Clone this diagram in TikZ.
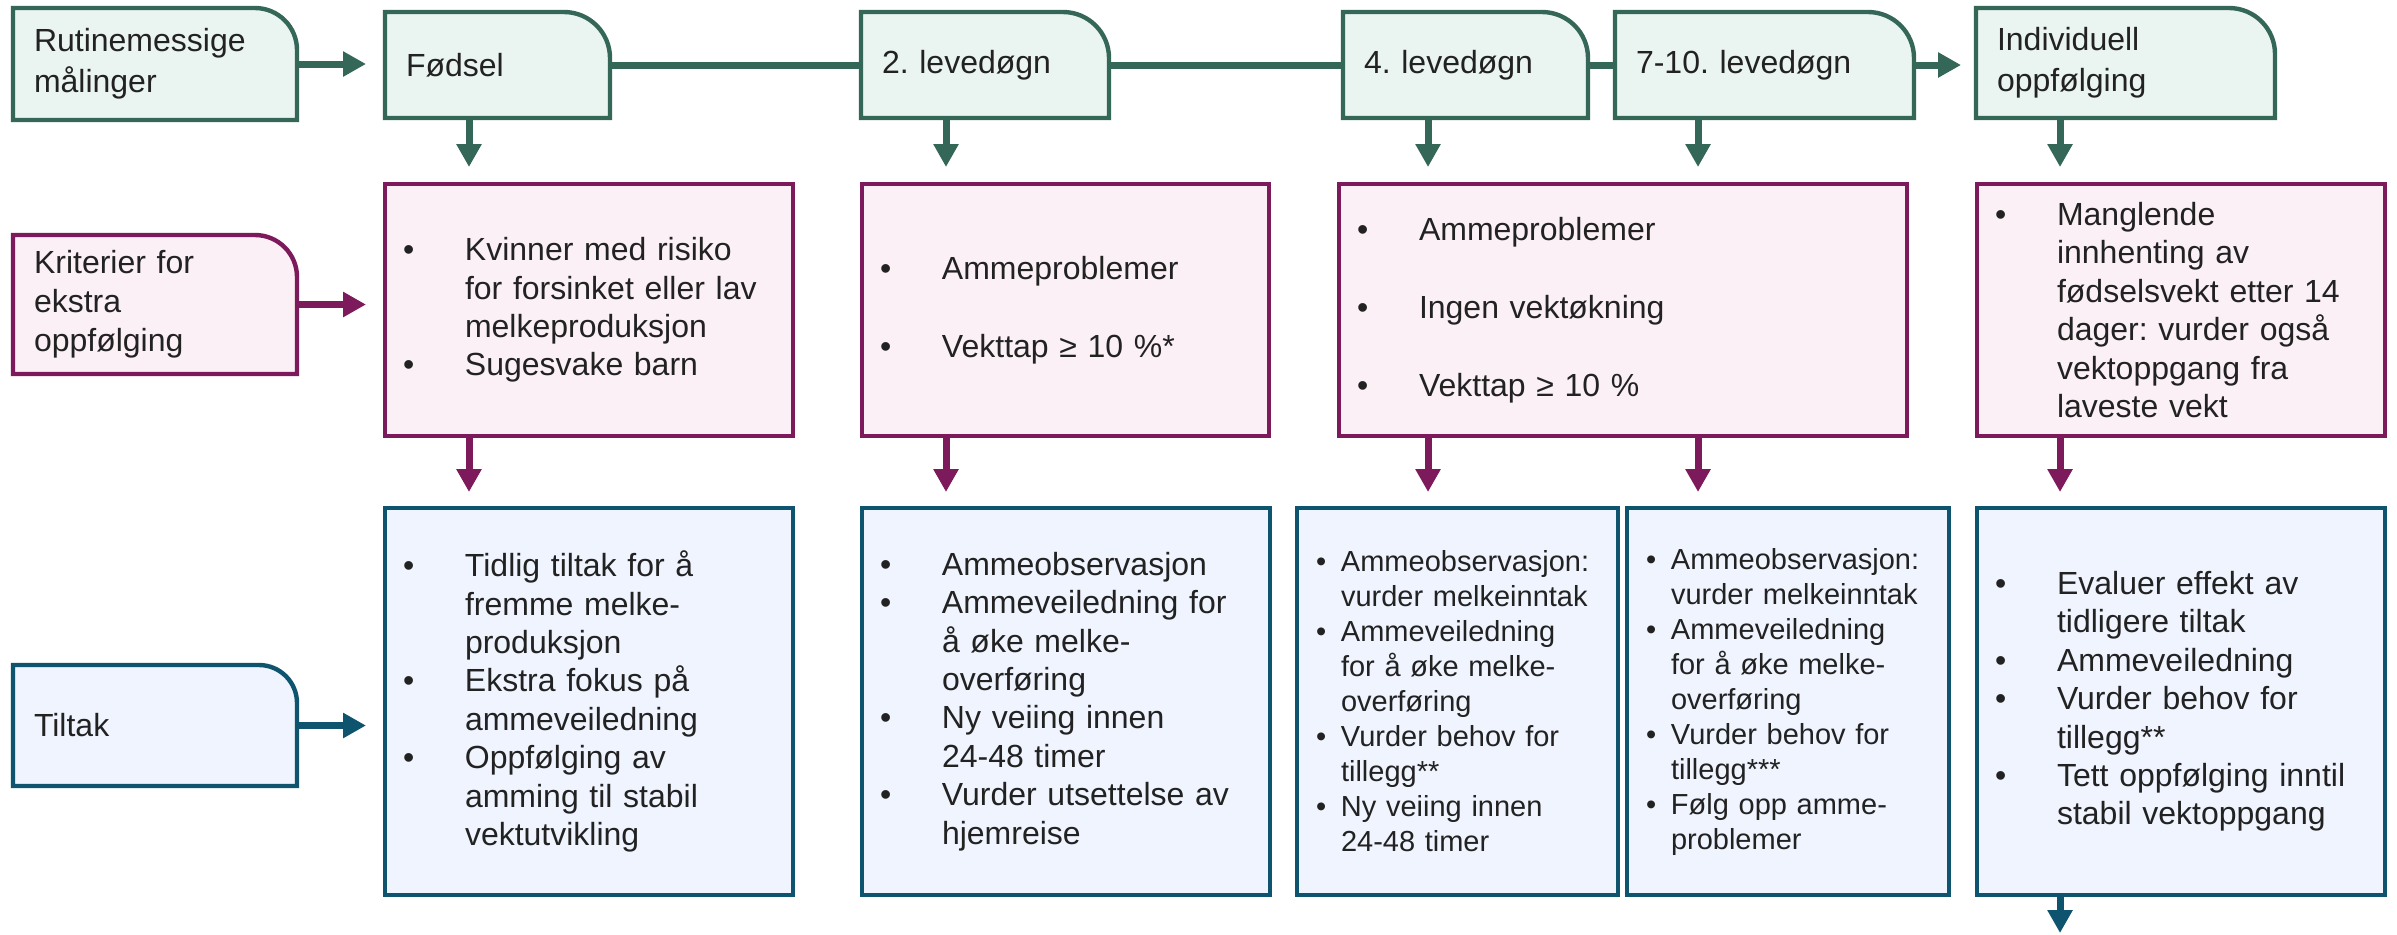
\documentclass[tikz,border=0pt]{standalone}
\usepackage{fontspec}
\setmainfont{Liberation Sans}
\usetikzlibrary{arrows.meta,backgrounds}
\definecolor{gstroke}{HTML}{356758}
\definecolor{gfill}{HTML}{EAF4F0}
\definecolor{pstroke}{HTML}{7D1A5C}
\definecolor{pfill}{HTML}{FBF0F6}
\definecolor{bstroke}{HTML}{0E546E}
\definecolor{bfill}{HTML}{EFF4FE}
\definecolor{txt}{HTML}{222222}
\frenchspacing
\newcommand\bA[1]{\noindent\hangindent=40pt\hangafter=1\makebox[40pt][l]{\hspace{9pt}\textbullet}#1\par}
\newcommand\bB[1]{\noindent\hangindent=22pt\hangafter=1\makebox[22pt][l]{\hspace{9.5pt}\textbullet}#1\par}
\newcommand\tabshape[3]{\path[#2] (#1.south west) -- (#1.north west) -- ([xshift=-#3]#1.north east) arc[start angle=90,end angle=0,radius=#3] -- (#1.south east) -- cycle;}
\tikzset{
  tab/.style={inner sep=0pt, outer sep=0pt, align=left, text=txt, font=\fontsize{16}{20.5}\selectfont},
  gshape/.style={draw=gstroke, fill=gfill, line width=2.2pt},
  pshape/.style={draw=pstroke, fill=pfill, line width=2.2pt},
  bshape/.style={draw=bstroke, fill=bfill, line width=2.2pt},
  pbox/.style={pshape, inner sep=0pt, outer sep=0pt, align=left, text=txt, font=\fontsize{16}{19.2}\selectfont, minimum height=126pt},
  bbox/.style={bshape, inner sep=0pt, outer sep=0pt, align=left, text=txt, font=\fontsize{16}{19.2}\selectfont, minimum height=193.5pt},
  gline/.style={draw=gstroke, line width=3.5pt},
  garr/.style={gline, -{Triangle[length=11.5pt,width=12pt]}},
  parr/.style={draw=pstroke, line width=3.5pt, -{Triangle[length=11.5pt,width=12pt]}},
  barr/.style={draw=bstroke, line width=3.5pt, -{Triangle[length=11.5pt,width=12pt]}}
}
\begin{document}
\begin{tikzpicture}[x=0.5pt,y=-0.5pt]
\useasboundingbox (0,0) rectangle (2397,934);
% top row
\node[tab, minimum width=142pt, minimum height=56pt, text width=121pt] (rut) at (155,64) {Rutinemessige\\målinger};
\node[tab, minimum width=112.5pt, minimum height=53pt, text width=91.5pt] (fods) at (497.5,65) {Fødsel};
\node[tab, minimum width=124pt, minimum height=53pt, text width=103pt] (lev2) at (985,65) {2. levedøgn};
\node[tab, minimum width=122.5pt, minimum height=53pt, text width=101.5pt] (lev4) at (1465.5,65) {4. levedøgn};
\node[tab, minimum width=149.5pt, minimum height=53pt, text width=128.5pt] (lev7) at (1764.5,65) {7-10. levedøgn};
\node[tab, minimum width=149.5pt, minimum height=55pt, text width=128.5pt] (ind) at (2125.5,63) {Individuell\\oppfølging};
% left labels
\node[tab, minimum width=142pt, minimum height=69.5pt, text width=121pt, font=\fontsize{16}{19.5}\selectfont] (krit) at (155,304.5) {Kriterier for\\ekstra\\oppfølging};
\node[tab, minimum width=142pt, minimum height=60.5pt, text width=121pt] (tilt) at (155,725.5) {Tiltak};
% pink row
\node[pbox, minimum width=204pt, text width=204pt] (p1) at (589,310) {\bA{Kvinner med risiko\newline for forsinket eller lav\newline melkeproduksjon}\bA{Sugesvake barn}};
\node[pbox, minimum width=203.5pt, text width=203.5pt, font=\fontsize{16}{39}\selectfont] (p2) at (1065.5,310) {\bA{Ammeproblemer}\bA{Vekttap ≥ 10 \%*}};
\node[pbox, minimum width=284pt, text width=284pt, font=\fontsize{16}{39}\selectfont] (p3) at (1623,310) {\bA{Ammeproblemer}\bA{Ingen vektøkning}\bA{Vekttap ≥ 10 \%}};
\node[pbox, minimum width=204pt, text width=204pt] (p4) at (2181,310) {\bA{Manglende\newline innhenting av\newline fødselsvekt etter 14\newline dager: vurder også\newline vektoppgang fra\newline laveste vekt}};
% blue row
\node[bbox, minimum width=204pt, text width=204pt] (b1) at (589,701.5) {\bA{Tidlig tiltak for å\newline fremme melke-\newline produksjon}\bA{Ekstra fokus på\newline ammeveiledning}\bA{Oppfølging av\newline amming til stabil\newline vektutvikling}};
\node[bbox, minimum width=204pt, text width=204pt] (b2) at (1066,701.5) {\bA{Ammeobservasjon}\bA{Ammeveiledning for\newline å øke melke-\newline overføring}\bA{Ny veiing innen\newline 24-48 timer}\bA{Vurder utsettelse av\newline hjemreise}};
\node[bbox, minimum width=160.5pt, text width=160.5pt, font=\fontsize{14.5}{17.5}\selectfont] (b3) at (1457.5,701.5) {\bB{Ammeobservasjon:\newline vurder melkeinntak}\bB{Ammeveiledning\newline for å øke melke-\newline overføring}\bB{Vurder behov for\newline tillegg**}\bB{Ny veiing innen\newline 24-48 timer}};
\node[bbox, minimum width=161pt, text width=161pt, font=\fontsize{14.5}{17.5}\selectfont] (b4) at (1788,701.5) {\bB{Ammeobservasjon:\newline vurder melkeinntak}\bB{Ammeveiledning\newline for å øke melke-\newline overføring}\bB{Vurder behov for\newline tillegg***}\bB{Følg opp amme-\newline problemer}};
\node[bbox, minimum width=204pt, text width=204pt] (b5) at (2181,701.5) {\bA{Evaluer effekt av\newline tidligere tiltak}\bA{Ammeveiledning}\bA{Vurder behov for\newline tillegg**}\bA{Tett oppfølging inntil\newline stabil vektoppgang}};
% tab shapes
\begin{scope}[on background layer]
\tabshape{rut}{gshape}{21pt}
\tabshape{fods}{gshape}{23pt}
\tabshape{lev2}{gshape}{23pt}
\tabshape{lev4}{gshape}{23pt}
\tabshape{lev7}{gshape}{23pt}
\tabshape{ind}{gshape}{23pt}
\tabshape{krit}{pshape}{21pt}
\tabshape{tilt}{bshape}{19pt}
\end{scope}
% coordinates for vertical arrows
\coordinate (x1) at ([xshift=42pt]fods.south west);
\coordinate (x2) at ([xshift=42.5pt]lev2.south west);
\coordinate (x3) at ([xshift=42.5pt]lev4.south west);
\coordinate (x4) at ([xshift=41.5pt]lev7.south west);
\coordinate (x5) at ([xshift=42pt]ind.south west);
\coordinate (bottom) at (0,933);
% top connectors
\draw[garr, shorten >=9.5pt] (rut.east) -- (rut.east -| fods.west);
\draw[gline] (fods.east) -- (lev2.west);
\draw[gline] (lev2.east) -- (lev4.west);
\draw[gline] (lev4.east) -- (lev7.west);
\draw[garr, shorten >=7.5pt] (lev7.east) -- (lev7.east -| ind.west);
\draw[garr, shorten >=8.5pt] (x1) -- (x1 |- p1.north);
\draw[garr, shorten >=8.5pt] (x2) -- (x2 |- p2.north);
\draw[garr, shorten >=8.5pt] (x3) -- (x3 |- p3.north);
\draw[garr, shorten >=8.5pt] (x4) -- (x4 |- p3.north);
\draw[garr, shorten >=8.5pt] (x5) -- (x5 |- p4.north);
% pink connectors
\draw[parr, shorten >=9.5pt] (krit.east) -- (krit.east -| p1.west);
\draw[parr, shorten >=8pt] (x1 |- p1.south) -- (x1 |- b1.north);
\draw[parr, shorten >=8pt] (x2 |- p2.south) -- (x2 |- b2.north);
\draw[parr, shorten >=8pt] (x3 |- p3.south) -- (x3 |- b3.north);
\draw[parr, shorten >=8pt] (x4 |- p3.south) -- (x4 |- b4.north);
\draw[parr, shorten >=8pt] (x5 |- p4.south) -- (x5 |- b5.north);
% blue connectors
\draw[barr, shorten >=9.5pt] (tilt.east) -- (tilt.east -| b1.west);
\draw[barr] (x5 |- b5.south) -- (x5 |- bottom);
\end{tikzpicture}
\end{document}
